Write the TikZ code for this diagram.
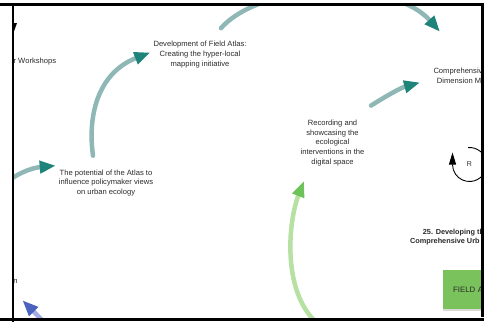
\documentclass[tikz,border=0pt]{standalone}
\usepackage{fontspec}
\setmainfont{Liberation Sans}
\usetikzlibrary{arrows.meta,shadows}

\definecolor{ink}{HTML}{2A2A2A}
\definecolor{shaftteal}{HTML}{8EB7B5}
\definecolor{headteal}{HTML}{1E8479}
\definecolor{shaftgreen}{HTML}{B7E0A3}
\definecolor{headgreen}{HTML}{6EC25A}
\definecolor{shaftblue}{HTML}{A4ACE3}
\definecolor{headblue}{HTML}{4B63BE}
\definecolor{boxgreen}{HTML}{7AC35C}

\tikzset{
  every node/.style={inner sep=0pt, text=ink},
  caption/.style={align=center, font=\fontsize{7.6}{9.6}\selectfont},
  cut/.style={anchor=west, font=\fontsize{7.6}{9.6}\selectfont},
  cutbold/.style={anchor=west, font=\bfseries\fontsize{7.3}{9.4}\selectfont},
  fieldbox/.style={anchor=north west, fill=boxgreen, minimum height=39pt,
    text width=36pt, align=left, inner xsep=10pt, inner ysep=0pt,
    font=\fontsize{7.8}{9.4}\selectfont,
    drop shadow={shadow xshift=-0.6pt, shadow yshift=-1.6pt, opacity=0.3}},
  tealflow/.style={draw=shaftteal, line width=4.5pt, line cap=round,
    -{Triangle[length=16pt,width=12pt,color=headteal]}},
  greenflow/.style={draw=shaftgreen, line width=4.5pt, line cap=round,
    -{Triangle[length=16pt,width=12pt,color=headgreen]}},
  blueflow/.style={draw=shaftblue, line width=4.5pt,
    -{Triangle[length=16pt,width=12pt,color=headblue]}},
  loopline/.style={draw=black, line width=0.9pt,
    -{Triangle[length=12pt,width=7pt]}},
  frame/.style={draw=black}
}

\begin{document}
\begin{tikzpicture}[x=1pt,y=-1pt]
\useasboundingbox (0,0) rectangle (484,322);

\begin{scope}
  \clip (12,4) rectangle (481,320);

  % text nodes
  \node[caption] (dev) at (200,54.5)
    {Development of Field Atlas:\\Creating the hyper-local\\mapping initiative};
  \node[caption] (pot) at (106,183)
    {The potential of the Atlas to\\influence policymaker views\\on urban ecology};
  \node[caption] (rec) at (332.5,143)
    {Recording and\\showcasing the\\ecological\\interventions in the\\digital space};
  \node[cut] (compA) at (433.3,72) {Comprehensiv};
  \node[cut] (compB) at (436.7,81) {Dimension M};
  \node[cut] (work) at (13.4,62) {r Workshops};
  \node[cut] (nfrag) at (13.2,281) {n};
  \node[cutbold] (devA) at (422.7,232.3) {25. Developing th};
  \node[cutbold] (devB) at (410,241.7) {Comprehensive Urb};
  \node[font=\fontsize{7}{8}\selectfont] (R) at (469.5,164.5) {R};
  \node[fieldbox] (field) at (443,270) {FIELD A};

  % free ends of links that leave the frame
  \coordinate (leftsrc) at (2,186);
  \coordinate (greensrc) at (317,323);
  \coordinate (bluesrc) at (46,324);

  % links
  \draw[tealflow] ([shift={(-13,-14)}]pot.north)
    .. controls (87,112) and (100,72) .. ([shift={(-3,-2)}]dev.west);
  \draw[tealflow] ([shift={(21,-13)}]dev.north)
    .. controls (262,-18) and (392,-22) .. ([shift={(6.7,-36.5)}]compA.north west);
  \draw[tealflow] ([shift={(6.5,-14.5)}]rec.north east)
    .. controls (383,98) and (400,88) .. ([shift={(-16.7,1.5)}]compB.west);
  \draw[tealflow] (leftsrc)
    .. controls (14,175) and (30,168) .. ([shift={(-3,-4)}]pot.north west);
  \draw[greenflow] (greensrc)
    .. controls (282,292) and (288,222) .. ([shift={(-28.5,15)}]rec.south);
  \draw[blueflow] (bluesrc) -- ([shift={(4.6,17)}]nfrag.south east);

  % reinforcing loop marker
  \draw[loopline] ([shift={(95:17pt)}]R.center)
    arc[start angle=95, end angle=-180, radius=17pt] -- ++(0,-12);

  % tip of a loop arrow at the upper left edge
  \fill[black] (8,23) -- (17,23) -- (12.5,35.5) -- cycle;
\end{scope}

% frame lines
\draw[frame, line width=3pt] (0,4) -- (484,4);
\draw[frame, line width=2pt] (12.8,4) -- (12.8,322);
\draw[frame, line width=3.3pt] (482.3,4) -- (482.3,316.5);
\draw[frame, line width=3pt] (0,319.8) -- (484,319.8);
\end{tikzpicture}
\end{document}
